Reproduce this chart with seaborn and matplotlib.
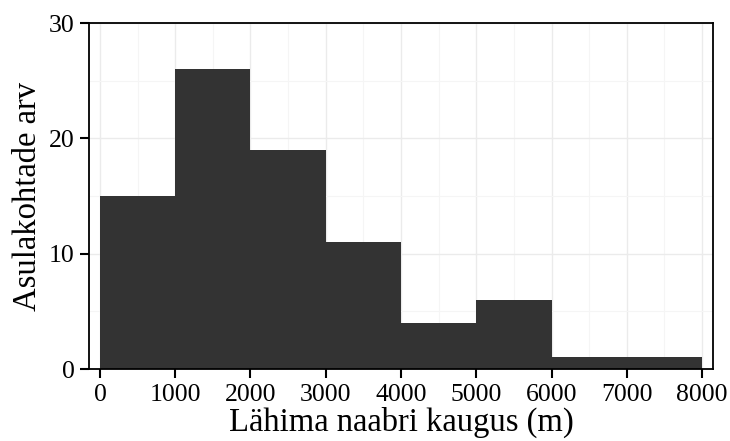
import matplotlib
matplotlib.use("Agg")
import matplotlib.pyplot as plt
import seaborn as sns
import numpy as np
import pandas as pd
from matplotlib.ticker import MultipleLocator

bin_edges = [0, 1000, 2000, 3000, 4000, 5000, 6000, 7000, 8000]
counts = [15, 26, 19, 11, 4, 6, 1, 1]
x_ticks = [0, 1000, 2000, 3000, 4000, 5000, 6000, 7000, 8000]
y_ticks = [0, 10, 20, 30]
x_label = "Lähima naabri kaugus (m)"
y_label = "Asulakohtade arv"

centers = [(a + b) / 2 for a, b in zip(bin_edges[:-1], bin_edges[1:])]
df = pd.DataFrame({"dist": centers, "n": counts})

sns.set_theme(style="white")
plt.rcParams["font.family"] = ["Liberation Serif", "DejaVu Serif"]

fig = plt.figure(figsize=(7.3, 4.41), dpi=100)
ax = fig.add_axes([89 / 730, 1 - 369 / 441, (713 - 89) / 730, (369 - 23) / 441])

sns.histplot(data=df, x="dist", weights="n", bins=bin_edges, ax=ax,
             color="#333333", edgecolor="none", alpha=1, linewidth=0)

ax.set_xlim(-146, 8146)
ax.set_ylim(0, 30)
ax.set_xticks(x_ticks)
ax.set_yticks(y_ticks)
ax.xaxis.set_minor_locator(MultipleLocator(500))
ax.yaxis.set_minor_locator(MultipleLocator(5))
ax.grid(which="major", color="#ebebeb", linewidth=1.0)
ax.grid(which="minor", color="#f5f5f5", linewidth=0.8)
ax.set_axisbelow(True)
for s in ax.spines.values():
    s.set_color("black")
    s.set_linewidth(1.3)
ax.tick_params(axis="both", which="major", direction="out", length=6.5, width=1.5,
               color="black", labelsize=18.5, labelcolor="black", pad=4,
               bottom=True, left=True)
ax.tick_params(which="minor", length=0)
ax.set_xlabel(x_label, fontsize=23.5, color="black", labelpad=1)
ax.set_ylabel(y_label, fontsize=23.5, color="black", labelpad=4)

fig.savefig("out.png", dpi=100)
